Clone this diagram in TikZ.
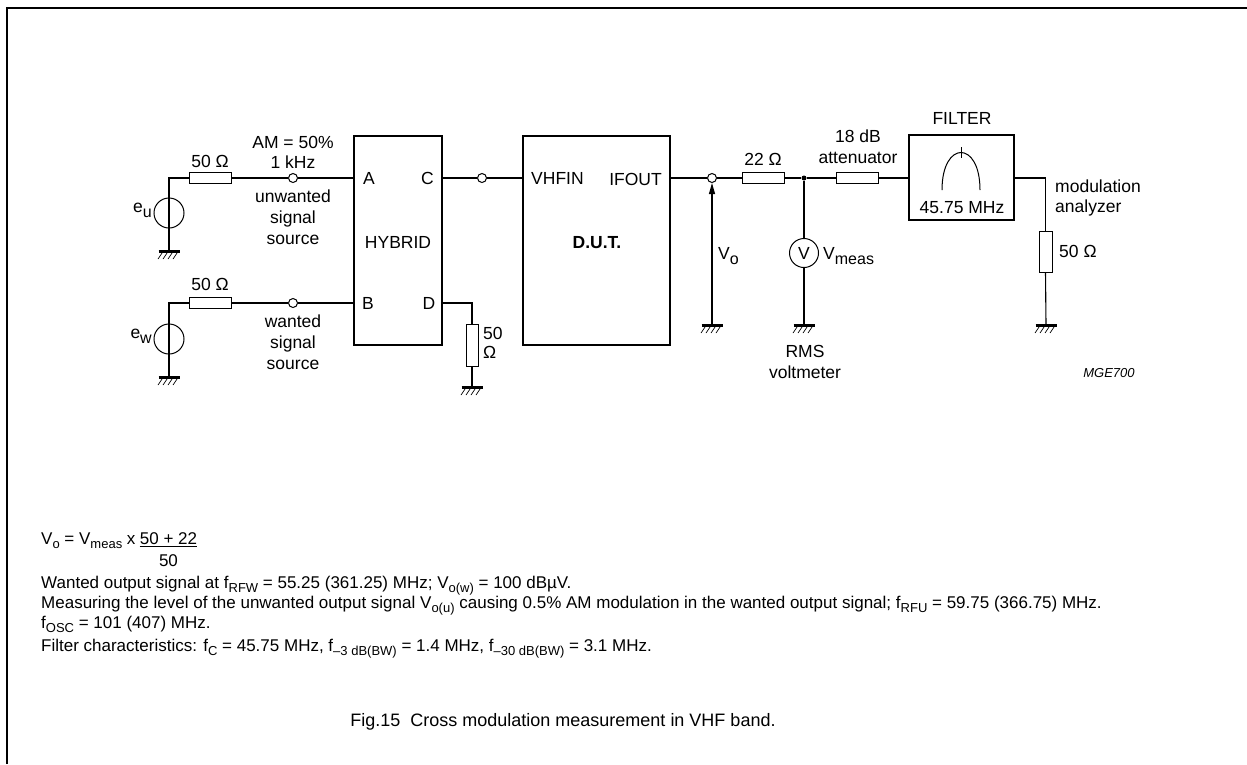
\documentclass[tikz,border=0pt]{standalone}
\usepackage{fontspec}
\setmainfont{Liberation Sans}
\usetikzlibrary{arrows.meta}
\newcommand\dfont{\fontsize{17.5}{20}\selectfont}
\newcommand\nfont{\fontsize{17}{20}\selectfont}
\newcommand\dsub[1]{\raisebox{-0.32em}{\fontsize{16}{18}\selectfont #1}}
\newcommand\nsub[1]{\raisebox{-0.28em}{\fontsize{13}{14}\selectfont #1}}
\tikzset{
  gnd/.pic={
    \draw[line width=3pt] (-10.5,0) -- (10.5,0);
    \foreach \i in {-7,-2,3,8} \draw[line width=0.7pt] (\i,2) -- (\i-4,8);
  }
}
\begin{document}
\begin{tikzpicture}[x=1pt,y=-1pt,
  wire/.style={line width=1.1pt},
  blk/.style={draw, line width=2.4pt, inner sep=0pt},
  hres/.style={draw, line width=1pt, fill=white, minimum width=42pt, minimum height=11pt, inner sep=0pt},
  vres/.style={draw, line width=1pt, fill=white, minimum width=12pt, minimum height=42pt, inner sep=0pt},
  term/.style={circle, draw, fill=white, line width=1pt, minimum size=9pt, inner sep=0pt},
  srcc/.style={circle, draw, line width=1pt, minimum size=30pt, inner sep=0pt},
  jdot/.style={circle, fill, minimum size=5pt, inner sep=0pt},
  lbl/.style={font=\dfont, inner sep=0pt, anchor=base},
  lblw/.style={lbl, anchor=base west},
  lble/.style={lbl, anchor=base east},
  note/.style={font=\nfont, inner sep=0pt, anchor=base west},
]
\useasboundingbox (0,0) rectangle (1247,764);
\draw[line width=2pt] (7,764) -- (7,8) -- (1247,8);

% ---------- blocks
\node[blk, minimum width=88pt, minimum height=209pt] (hyb) at (398,240.5) {};
\node[blk, minimum width=147pt, minimum height=209pt] (dut) at (596.5,240.5) {};
\node[blk, minimum width=105pt, minimum height=85pt] (filt) at (961.5,177.5) {};

% ---------- upper source (unwanted)
\coordinate (gu) at (169,251);
\node[hres] (ru) at (210,178) {};
\node[term] (tu) at (293,178) {};
\draw[wire] (gu) |- (ru.west);
\node[srcc] (eu) at (169,213) {};
\draw[wire] (ru.east) -- (tu.west);
\draw[wire] (tu.east) -- (hyb.west |- tu);
\pic at (gu) {gnd};

% ---------- lower source (wanted)
\coordinate (gw) at (169,377);
\node[hres] (rw) at (210,303) {};
\node[term] (tw) at (293,303) {};
\draw[wire] (gw) |- (rw.west);
\node[srcc] (ew) at (169,339) {};
\draw[wire] (rw.east) -- (tw.west);
\draw[wire] (tw.east) -- (hyb.west |- tw);
\pic at (gw) {gnd};

% ---------- hybrid D output termination
\node[vres] (rd) at (472,345.5) {};
\coordinate (gd) at (472,387);
\draw[wire] (hyb.east |- tw) -| (rd.north);
\draw[wire] (rd.south) -- (gd);
\pic at (gd) {gnd};

% ---------- hybrid C to DUT
\node[term] (tc) at (482,178) {};
\draw[wire] (hyb.east |- tc) -- (tc.west);
\draw[wire] (tc.east) -- (dut.west |- tc);

% ---------- output chain
\node[term] (to) at (712,178) {};
\node[hres] (r22) at (763,178) {};
\node[jdot] (j) at (804,178) {};
\node[hres] (ratt) at (857.5,178) {};
\draw[wire] (dut.east |- to) -- (to.west);
\draw[wire] (to.east) -- (r22.west);
\draw[wire] (r22.east) -- (j);
\draw[wire] (j) -- (ratt.west);
\draw[wire] (ratt.east) -- (filt.west |- ratt);

% V_o arrow
\coordinate (gvo) at (712,325);
\draw[wire, -{Triangle[length=11pt,width=6pt]}] (gvo) -- (to.south);
\pic at (gvo) {gnd};

% voltmeter
\node[srcc, minimum size=29pt, font=\dfont] (vm) at (804,253) {V};
\coordinate (gvm) at (804,325);
\draw[wire] (j) -- (vm.north);
\draw[wire] (vm.south) -- (gvm);
\pic at (gvm) {gnd};

% filter contents
\draw[line width=1pt] (942,190) .. controls (942,140) and (980,140) .. (980,190);
\draw[line width=1pt] (961,147) -- (961,158);

% analyzer load
\node[vres, minimum width=13pt, minimum height=41pt] (r50) at (1045.5,251.5) {};
\coordinate (gf) at (1046,325);
\draw[wire] (filt.east |- ratt) -| (r50.north);
\draw[wire] (r50.south) -- (gf);
\pic at (gf) {gnd};

% ---------- labels
\node[lble] (leu) at (152,212) {e\dsub{u}};
\node[lble] (lew) at (152,338) {e\dsub{w}};
\node[lbl] (lru) at (210,167) {50 Ω};
\node[lbl] (lrw) at (210,290) {50 Ω};
\node[lbl] (lam) at (293,148) {AM = 50\%};
\node[lbl] (lkhz) at (293,168) {1 kHz};
\node[lbl] (lu1) at (293,202) {unwanted};
\node[lbl] (lu2) at (293,223) {signal};
\node[lbl] (lu3) at (293,244) {source};
\node[lbl] (lw1) at (293,327) {wanted};
\node[lbl] (lw2) at (293,348) {signal};
\node[lbl] (lw3) at (293,369) {source};
\node[lbl] (lA) at (369,184) {A};
\node[lbl] (lC) at (427.5,184) {C};
\node[lbl] (lB) at (368,309) {B};
\node[lbl] (lD) at (429,309) {D};
\node[lbl] (lhyb) at (398,248) {HYBRID};
\node[lblw] (lrd1) at (483,339) {50};
\node[lblw] (lrd2) at (483,358) {Ω};
\node[lblw] (lvhf) at (531,184) {VHFIN};
\node[lble] (lif) at (662,185) {IFOUT};
\node[lbl, font=\dfont\bfseries] (ldut) at (597,248) {D.U.T.};
\node[lblw] (lvo) at (718,259) {V\dsub{o}};
\node[lbl] (l22) at (763,165) {22 Ω};
\node[lbl] (l18) at (858,142) {18 dB};
\node[lbl] (latt) at (858,163) {attenuator};
\node[lblw] (lvm) at (823,259) {V\dsub{meas}};
\node[lbl] (lrms) at (805,357) {RMS};
\node[lbl] (lvolt) at (805,378) {voltmeter};
\node[lbl] (lfilt) at (962,124) {FILTER};
\node[lbl] (lfreq) at (962,213) {45.75 MHz};
\node[lblw] (lmod) at (1055,192) {modulation};
\node[lblw] (lana) at (1055,212) {analyzer};
\node[lblw] (lr50) at (1059,257) {50 Ω};
\node[lbl, font=\fontsize{13}{15}\selectfont\itshape] (lmge) at (1109,377) {MGE700};

% ---------- notes
\node[note] (n0) at (41,544) {V\nsub{o} = V\nsub{meas} x};
\node[note] (num) at ([xshift=4pt]n0.base east) {50 + 22};
\node[note, anchor=base] (den) at ([yshift=-22pt]num.base) {50};
\draw[line width=0.8pt] ([yshift=-2.5pt]num.south west) -- ([yshift=-2.5pt]num.south east);
\node[note] (n1) at (41,588) {Wanted output signal at f\nsub{RFW} = 55.25 (361.25) MHz; V\nsub{o(w)} = 100 dBµV.};
\node[note] (n2) at (41,608) {Measuring the level of the unwanted output signal V\nsub{o(u)} causing 0.5\% AM modulation in the wanted output signal; f\nsub{RFU} = 59.75 (366.75) MHz.};
\node[note] (n3) at (41,628) {f\nsub{OSC} = 101 (407) MHz.};
\node[note] (n4) at (41,651) {Filter characteristics: f\nsub{C} = 45.75 MHz, f\nsub{–3 dB(BW)} = 1.4 MHz, f\nsub{–30 dB(BW)} = 3.1 MHz.};
\node[font=\fontsize{18}{21}\selectfont, inner sep=0pt, anchor=base] (cap) at (563,726) {Fig.15\ \ Cross modulation measurement in VHF band.};
\end{tikzpicture}
\end{document}
